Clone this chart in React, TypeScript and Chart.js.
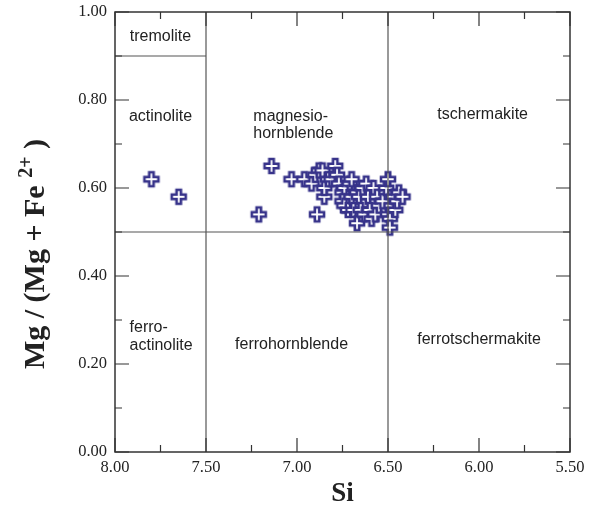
import React, { useEffect, useRef } from "react";
import { Chart, registerables } from "chart.js";

Chart.register(...registerables);

// Si (apfu) and Mg/(Mg+Fe2+) of the analysed amphiboles
const siValues = [
  7.80, 7.65, 7.21, 7.14, 7.03, 6.96, 6.92, 6.90, 6.89, 6.88, 6.86, 6.85, 6.85, 6.83,
  6.81, 6.79, 6.78, 6.77, 6.75, 6.74, 6.75, 6.74, 6.72, 6.71, 6.70, 6.70, 6.69, 6.67,
  6.67, 6.66, 6.65, 6.64, 6.63, 6.62, 6.61, 6.60, 6.59, 6.58, 6.57, 6.56, 6.55, 6.53,
  6.51, 6.50, 6.50, 6.49, 6.48, 6.47, 6.46, 6.45, 6.44, 6.42, 6.49,
];
const mgValues = [
  0.62, 0.58, 0.54, 0.65, 0.62, 0.62, 0.61, 0.63, 0.54, 0.64, 0.64, 0.58, 0.60, 0.62,
  0.62, 0.65, 0.63, 0.61, 0.59, 0.60, 0.57, 0.56, 0.55, 0.61, 0.62, 0.58, 0.55, 0.59,
  0.52, 0.58, 0.55, 0.60, 0.54, 0.61, 0.58, 0.55, 0.53, 0.60, 0.54, 0.58, 0.56, 0.57,
  0.60, 0.62, 0.54, 0.53, 0.56, 0.58, 0.55, 0.57, 0.59, 0.58, 0.51,
];

const xTickValues = [8.0, 7.5, 7.0, 6.5, 6.0, 5.5];
const xTickLabels = ["8.00", "7.50", "7.00", "6.50", "6.00", "5.50"];
const yTickValues = [0, 0.2, 0.4, 0.6, 0.8, 1.0];
const yTickLabels = ["0.00", "0.20", "0.40", "0.60", "0.80", "1.00"];

// classification boundaries [x1, y1, x2, y2] in data units
const boundaries = [
  [7.5, 0, 7.5, 1],
  [6.5, 0, 6.5, 1],
  [8.0, 0.5, 5.5, 0.5],
  [8.0, 0.9, 7.5, 0.9],
];

// field names [text, x, y, align]
const fieldNames: [string, number, number, CanvasTextAlign][] = [
  ["tremolite", 7.75, 0.945, "center"],
  ["actinolite", 7.75, 0.762, "center"],
  ["magnesio-", 7.24, 0.762, "left"],
  ["hornblende", 7.24, 0.723, "left"],
  ["tschermakite", 5.98, 0.767, "center"],
  ["ferro-", 7.92, 0.282, "left"],
  ["actinolite", 7.92, 0.241, "left"],
  ["ferrohornblende", 7.03, 0.245, "center"],
  ["ferrotschermakite", 6.0, 0.255, "center"],
];

function makeCross(): HTMLCanvasElement {
  const c = document.createElement("canvas");
  c.width = 20;
  c.height = 20;
  const g = c.getContext("2d")!;
  const cx = 10, cy = 10, w = 2.2, e = 7;
  g.beginPath();
  g.moveTo(cx - w, cy - e);
  g.lineTo(cx + w, cy - e);
  g.lineTo(cx + w, cy - w);
  g.lineTo(cx + e, cy - w);
  g.lineTo(cx + e, cy + w);
  g.lineTo(cx + w, cy + w);
  g.lineTo(cx + w, cy + e);
  g.lineTo(cx - w, cy + e);
  g.lineTo(cx - w, cy + w);
  g.lineTo(cx - e, cy + w);
  g.lineTo(cx - e, cy - w);
  g.lineTo(cx - w, cy - w);
  g.closePath();
  g.fillStyle = "#ffffff";
  g.fill();
  g.strokeStyle = "#37338a";
  g.lineWidth = 2.6;
  g.lineJoin = "miter";
  g.stroke();
  return c;
}

const overlay = {
  id: "overlay",
  afterDatasetsDraw(chart: any) {
    const { ctx, chartArea: a, scales } = chart;
    const xs = scales.x, ys = scales.y;
    ctx.save();
    // boundaries
    ctx.strokeStyle = "#555";
    ctx.lineWidth = 1.2;
    boundaries.forEach(([x1, y1, x2, y2]) => {
      ctx.beginPath();
      ctx.moveTo(xs.getPixelForValue(x1), ys.getPixelForValue(y1));
      ctx.lineTo(xs.getPixelForValue(x2), ys.getPixelForValue(y2));
      ctx.stroke();
    });
    // frame
    ctx.strokeStyle = "#333";
    ctx.lineWidth = 1.5;
    ctx.strokeRect(a.left, a.top, a.right - a.left, a.bottom - a.top);
    // inward ticks
    ctx.lineWidth = 1.2;
    for (let i = 0; i <= 10; i++) {
      const v = 5.5 + i * 0.25;
      const px = xs.getPixelForValue(v);
      const len = i % 2 === 0 ? 14 : 7;
      ctx.beginPath();
      ctx.moveTo(px, a.bottom);
      ctx.lineTo(px, a.bottom - len);
      ctx.moveTo(px, a.top);
      ctx.lineTo(px, a.top + len);
      ctx.stroke();
    }
    for (let i = 0; i <= 10; i++) {
      const v = i * 0.1;
      const py = ys.getPixelForValue(v);
      const len = i % 2 === 0 ? 14 : 7;
      ctx.beginPath();
      ctx.moveTo(a.left, py);
      ctx.lineTo(a.left + len, py);
      ctx.moveTo(a.right, py);
      ctx.lineTo(a.right - len, py);
      ctx.stroke();
    }
    // field names
    ctx.fillStyle = "#222";
    ctx.font = '16px "Liberation Sans", Arial, sans-serif';
    ctx.textBaseline = "middle";
    fieldNames.forEach(([t, x, y, al]) => {
      ctx.textAlign = al;
      ctx.fillText(t, xs.getPixelForValue(x), ys.getPixelForValue(y));
    });
    // axis titles
    ctx.fillStyle = "#222";
    ctx.font = 'bold 27px "Liberation Serif", "Times New Roman", serif';
    ctx.textAlign = "center";
    ctx.textBaseline = "alphabetic";
    ctx.fillText("Si", (a.left + a.right) / 2, 501);
    // y title, rotated
    ctx.translate(44, 254);
    ctx.rotate(-Math.PI / 2);
    const big = 'bold 30px "Liberation Serif", "Times New Roman", serif';
    const small = 'bold 20px "Liberation Serif", "Times New Roman", serif';
    const p1 = "Mg / (Mg + Fe ";
    const p2 = "2+";
    const p3 = " )";
    ctx.font = big;
    const w1 = ctx.measureText(p1).width;
    const w3 = ctx.measureText(p3).width;
    ctx.font = small;
    const w2 = ctx.measureText(p2).width;
    let x0 = -(w1 + w2 + w3) / 2;
    ctx.textAlign = "left";
    ctx.font = big;
    ctx.fillText(p1, x0, 0);
    x0 += w1;
    ctx.font = small;
    ctx.fillText(p2, x0, -12);
    x0 += w2;
    ctx.font = big;
    ctx.fillText(p3, x0, 0);
    ctx.restore();
  },
};

export default function App() {
  const ref = useRef<HTMLCanvasElement | null>(null);
  useEffect(() => {
    document.body.style.margin = "0";
    const cross = makeCross();
    const data = siValues.map((x, i) => ({ x, y: mgValues[i] }));
    const tickFont = { family: '"Liberation Serif", "Times New Roman", serif', size: 16.5 };
    const chart = new Chart(ref.current!, {
      type: "scatter",
      data: {
        datasets: [
          {
            data,
            pointStyle: cross as any,
            pointRadius: 9,
            pointHoverRadius: 9,
          },
        ],
      },
      options: {
        animation: false,
        responsive: false,
        events: [],
        layout: { padding: { top: 12, right: 22, left: 0, bottom: 0 } },
        plugins: { legend: { display: false }, tooltip: { enabled: false } },
        scales: {
          x: {
            type: "linear",
            reverse: true,
            min: 5.5,
            max: 8,
            afterBuildTicks: (s: any) => {
              s.ticks = xTickValues.map((v) => ({ value: v }));
            },
            afterFit: (s: any) => {
              s.height = 59;
              s.paddingLeft = 0;
              s.paddingRight = 0;
            },
            grid: { display: false, drawTicks: false },
            border: { display: false },
            ticks: {
              padding: 6,
              color: "#222",
              font: tickFont,
              maxRotation: 0,
              callback: (v: any) => xTickLabels[xTickValues.indexOf(Number(v))] ?? "",
            },
          },
          y: {
            type: "linear",
            min: 0,
            max: 1,
            afterBuildTicks: (s: any) => {
              s.ticks = yTickValues.map((v) => ({ value: v }));
            },
            afterFit: (s: any) => {
              s.width = 115;
              s.paddingTop = 0;
              s.paddingBottom = 0;
            },
            grid: { display: false, drawTicks: false },
            border: { display: false },
            ticks: {
              padding: 8,
              color: "#222",
              font: tickFont,
              callback: (v: any) => {
                const i = yTickValues.findIndex((t) => Math.abs(t - Number(v)) < 1e-6);
                return i >= 0 ? yTickLabels[i] : "";
              },
            },
          },
        },
      },
      plugins: [overlay],
    });
    return () => chart.destroy();
  }, []);
  return (
    <div style={{ width: 592, height: 511 }}>
      <canvas ref={ref} width={592} height={511} style={{ display: "block" }} />
    </div>
  );
}
